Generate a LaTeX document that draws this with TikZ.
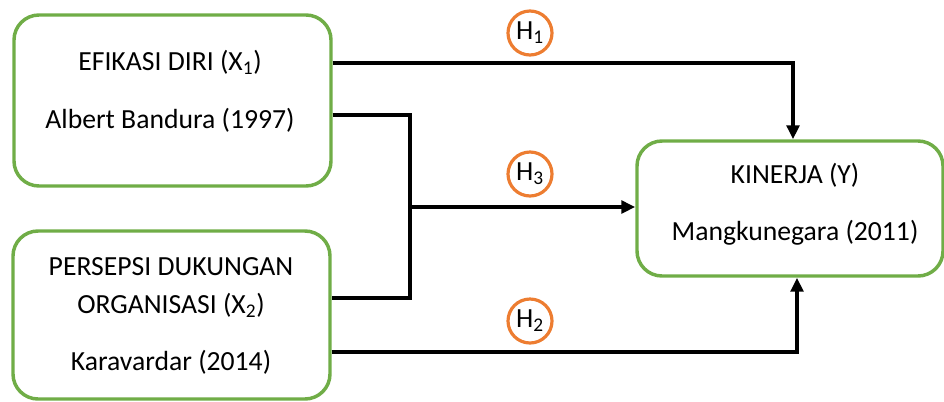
\documentclass[tikz,border=0pt]{standalone}
\usepackage{fontspec}
\setmainfont{Carlito}
\usetikzlibrary{arrows.meta}
\definecolor{boxgreen}{HTML}{70AD47}
\definecolor{hypo}{HTML}{ED7D31}
\begin{document}
\begin{tikzpicture}[x=0.75pt,y=-0.75pt,
  font=\fontsize{20.75}{24}\selectfont,
  varbox/.style={draw=boxgreen,line width=2.6pt,rounded corners=18.75pt,fill=white},
  lbl/.style={anchor=base,inner sep=0pt},
  link/.style={draw=black,line width=2.6pt},
  arrowlink/.style={link,-{Triangle[length=10.5pt,width=9.5pt]}},
  hyp/.style={draw=hypo,line width=2.4pt,circle,minimum size=33pt,inner sep=0pt}]
\useasboundingbox (0,0) rectangle (944,401);

% variable boxes
\node[varbox,minimum width=237.75pt,minimum height=128.25pt] (x1) at (172.5,100.5) {};
\node[varbox,minimum width=237.75pt,minimum height=126pt] (x2) at (171.5,315) {};
\node[varbox,minimum width=229.5pt,minimum height=101.25pt] (y) at (790,208.5) {};

% box texts
\node[lbl] (x1a) at (170,70) {EFIKASI DIRI (X\textsubscript{1})};
\node[lbl] (x1b) at (170,128) {Albert Bandura (1997)};
\node[lbl] (x2a) at (171,275) {PERSEPSI DUKUNGAN};
\node[lbl] (x2b) at (171,313) {ORGANISASI (X\textsubscript{2})};
\node[lbl] (x2c) at (171,370) {Karavardar (2014)};
\node[lbl] (ya) at (795,183) {KINERJA (Y)};
\node[lbl] (yb) at (795,240) {Mangkunegara (2011)};

% routing points
\coordinate (c1) at (793,63);
\coordinate (jt) at (410,115);
\coordinate (jb) at (410,298);
\coordinate (jm) at (410,207);
\coordinate (c2) at (797,352);

% H1: X1 -> Y
\draw[arrowlink] (x1.east |- c1) -- (c1) -- (c1 |- y.north);
% H3: X1 and X2 jointly -> Y
\draw[link] (x1.east |- jt) -- (jt) -- (jb) -- (x2.east |- jb);
\draw[arrowlink] (jm) -- (jm -| y.west);
% H2: X2 -> Y
\draw[arrowlink] (x2.east |- c2) -- (c2) -- (c2 |- y.south);

% hypothesis markers
\node[hyp] (h1) at (530,33) {H\textsubscript{1}};
\node[hyp] (h3) at (530,174) {H\textsubscript{3}};
\node[hyp] (h2) at (530,321) {H\textsubscript{2}};
\end{tikzpicture}
\end{document}
